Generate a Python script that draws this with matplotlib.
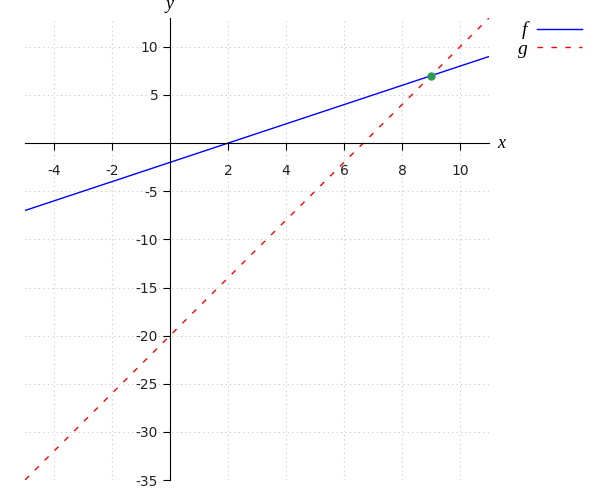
import matplotlib
matplotlib.use("Agg")
import matplotlib.pyplot as plt
import numpy as np

plt.rcParams['axes.unicode_minus'] = False

x_range = [-5, 11]
f_y = [-7, 9]
g_y = [-35, 13]
point_x = [9]
point_y = [7]
xticks = [-4, -2, 2, 4, 6, 8, 10]
yticks = [-35, -30, -25, -20, -15, -10, -5, 5, 10]

fig = plt.figure(figsize=(6, 5), dpi=100)
ax = fig.add_axes([25/600, 20/500, (489-25)/600, (480-18)/500])

ax.plot(x_range, f_y, color='blue', lw=1, label='f')
ax.plot(x_range, g_y, color='red', lw=1, ls=(0, (4, 6)), label='g')
ax.plot(point_x, point_y, 'o', color='#2e9a55', ms=5, zorder=5)

ax.set_xlim(-5, 11)
ax.set_ylim(-35, 13)
ax.spines['left'].set_position(('data', 0))
ax.spines['bottom'].set_position(('data', 0))
ax.spines['right'].set_visible(False)
ax.spines['top'].set_visible(False)
ax.set_xticks(xticks)
ax.set_yticks(yticks)
ax.tick_params(axis='both', direction='out', length=5, labelsize=10, labelcolor='#222222')
ax.tick_params(axis='x', pad=10)
ax.grid(True, ls=(0, (1, 3)), color='#c8c8c8', lw=0.8)
ax.set_axisbelow(True)

ax.text(11.3, 0, 'x', fontsize=13, family='Liberation Serif', style='italic', va='center', ha='left')
ax.text(0, 13.5, 'y', fontsize=13, family='Liberation Serif', style='italic', va='bottom', ha='center', clip_on=False)

leg = fig.legend(loc='upper left', bbox_to_anchor=(500/600, 1 - 4/500), frameon=False,
                 prop={'family': 'Liberation Serif', 'style': 'italic', 'size': 14},
                 handlelength=2.3, handletextpad=0.5, labelspacing=0.05, markerfirst=False)

fig.savefig('out.png', dpi=100)
